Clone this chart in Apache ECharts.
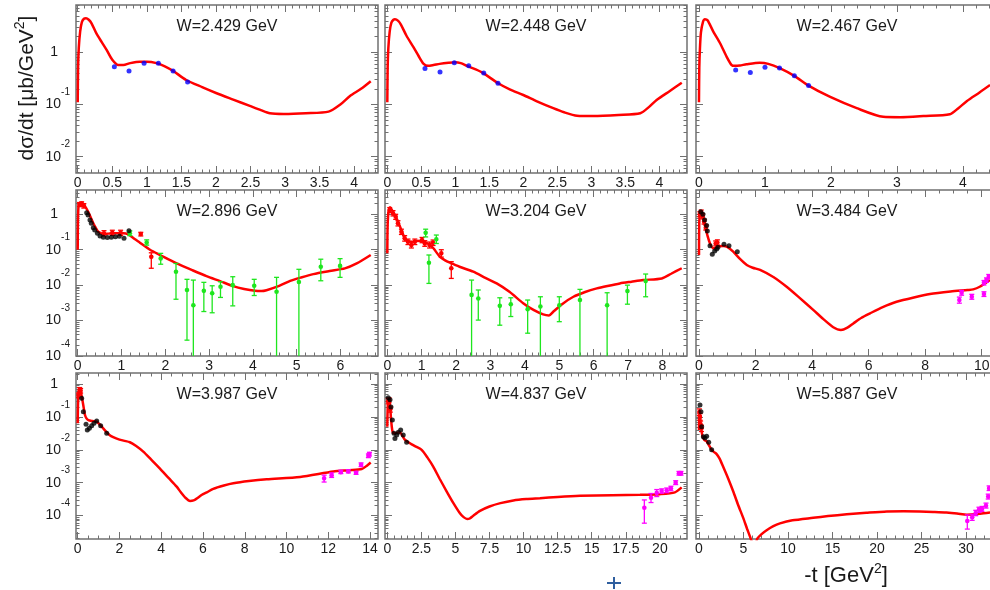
<!DOCTYPE html>
<html>
<head>
<meta charset="utf-8">
<script src="https://cdn.jsdelivr.net/npm/echarts@6/dist/echarts.min.js"></script>
<style>
  html, body { margin: 0; padding: 0; background: #ffffff; }
  #chart { width: 990px; height: 590px; }
</style>
</head>
<body>
<div id="chart"></div>
<script>
// ---------------------------------------------------------------
// dσ/dt versus -t for nine beam energies W (log scale).
// Red line: model curve; dots: measurements (with error bars where
// the measurement quotes them).
// ---------------------------------------------------------------

// ---- W = 2.429 GeV ----
const curve2429_t = [0, 0.005, 0.015, 0.035, 0.06, 0.09, 0.12, 0.16, 0.2, 0.27, 0.35, 0.42, 0.5, 0.587, 0.66, 0.76, 0.9, 1.0, 1.14, 1.26, 1.38, 1.57, 1.8, 2.01, 2.25, 2.49, 2.65, 2.78, 2.98, 3.3, 3.63, 3.8, 3.94, 4.1, 4.24];
const curve2429_v = [0.11, 0.5, 1.2, 2.5, 3.8, 4.4, 4.5, 4.2, 3.6, 2.3, 1.55, 1.1, 0.72, 0.57, 0.57, 0.62, 0.66, 0.66, 0.62, 0.54, 0.44, 0.295, 0.215, 0.164, 0.124, 0.094, 0.078, 0.068, 0.066, 0.068, 0.073, 0.1, 0.146, 0.2, 0.28];
const blue2429_t = [0.53, 0.742, 0.96, 1.167, 1.38, 1.59];
const blue2429_v = [0.53, 0.44, 0.62, 0.62, 0.44, 0.27];

// ---- W = 2.448 GeV ----
const curve2448_t = [0, 0.005, 0.015, 0.035, 0.06, 0.09, 0.113, 0.16, 0.2, 0.28, 0.38, 0.46, 0.53, 0.6, 0.68, 0.77, 0.9, 0.995, 1.08, 1.17, 1.3, 1.41, 1.63, 1.8, 2.0, 2.2, 2.44, 2.6, 2.79, 3.03, 3.4, 3.72, 3.85, 3.96, 4.15, 4.33];
const curve2448_v = [0.11, 0.5, 1.2, 2.5, 3.7, 4.2, 4.3, 4.0, 3.4, 2.1, 1.28, 0.85, 0.61, 0.55, 0.57, 0.6, 0.63, 0.645, 0.62, 0.55, 0.47, 0.40, 0.255, 0.195, 0.152, 0.115, 0.085, 0.071, 0.061, 0.06, 0.063, 0.068, 0.09, 0.122, 0.18, 0.26];
const blue2448_t = [0.554, 0.775, 0.985, 1.197, 1.418, 1.628];
const blue2448_v = [0.49, 0.42, 0.63, 0.55, 0.40, 0.255];

// ---- W = 2.467 GeV ----
const curve2467_t = [0, 0.005, 0.015, 0.03, 0.06, 0.09, 0.13, 0.217, 0.32, 0.42, 0.495, 0.545, 0.62, 0.72, 0.92, 1.05, 1.23, 1.45, 1.66, 1.98, 2.39, 2.79, 3.05, 3.4, 3.8, 3.93, 4.06, 4.25, 4.41];
const curve2467_v = [0.11, 0.5, 1.2, 2.4, 3.8, 4.3, 4.1, 2.5, 1.49, 0.82, 0.57, 0.55, 0.56, 0.59, 0.63, 0.6, 0.49, 0.35, 0.23, 0.141, 0.085, 0.058, 0.057, 0.06, 0.065, 0.085, 0.117, 0.17, 0.236];
const blue2467_t = [0.556, 0.778, 1.0, 1.22, 1.445, 1.66];
const blue2467_v = [0.46, 0.41, 0.52, 0.50, 0.356, 0.23];

// ---- W = 2.896 GeV ----
const curve2896_t = [0, 0.005, 0.02, 0.05, 0.09, 0.15, 0.24, 0.3, 0.356, 0.41, 0.47, 0.585, 0.7, 0.81, 0.93, 1.04, 1.155, 1.3, 1.42, 1.65, 1.88, 2.26, 2.6, 2.94, 3.25, 3.55, 3.8, 4.05, 4.2, 4.31, 4.6, 4.85, 5.1, 5.38, 5.75, 6.1, 6.37, 6.69];
const curve2896_v = [0.1, 0.6, 1.8, 2.0, 2.05, 1.8, 1.18, 0.8, 0.56, 0.42, 0.32, 0.28, 0.285, 0.29, 0.29, 0.29, 0.27, 0.2, 0.158, 0.1, 0.071, 0.041, 0.027, 0.018, 0.013, 0.0094, 0.0078, 0.0069, 0.0068, 0.0072, 0.0095, 0.0132, 0.0165, 0.0205, 0.025, 0.0297, 0.041, 0.071];
const black2896_t = [0.205, 0.235, 0.28, 0.31, 0.356, 0.388, 0.45, 0.51, 0.585, 0.676, 0.767, 0.86, 0.95, 1.057, 1.17];
const black2896_v = [1.11, 0.955, 0.69, 0.56, 0.42, 0.36, 0.29, 0.244, 0.224, 0.22, 0.224, 0.233, 0.24, 0.21, 0.344];
const red2896_t  = [0.04, 0.09, 0.14, 0.6, 0.79, 0.98, 1.44, 1.68];
const red2896_v  = [1.9, 2.0, 1.75, 0.29, 0.30, 0.30, 0.277, 0.063];
const red2896_lo = [1.65, 1.75, 1.5, 0.245, 0.255, 0.255, 0.245, 0.03];
const red2896_hi = [2.15, 2.25, 2.0, 0.345, 0.355, 0.355, 0.31, 0.082];
const green2896_t  = [1.19, 1.575, 1.895, 2.244, 2.495, 2.64, 2.88, 3.07, 3.26, 3.54, 4.03, 4.54, 5.05, 5.55, 5.99];
const green2896_v  = [0.29, 0.16, 0.057, 0.024, 0.0073, 0.0027, 0.0069, 0.0059, 0.009, 0.01, 0.0096, 0.0065, 0.0123, 0.033, 0.035];
const green2896_lo = [0.25, 0.135, 0.039, 0.004, 0.00028, 0, 0.0018, 0.00166, 0.0045, 0.0026, 0.0051, 0, 0, 0.0133, 0.0166];
const green2896_hi = [0.34, 0.19, 0.079, 0.041, 0.0146, 0.0139, 0.012, 0.0096, 0.0125, 0.0173, 0.0146, 0.0166, 0.028, 0.054, 0.056];

// ---- W = 3.204 GeV ----
const curve3204_t = [0, 0.01, 0.04, 0.08, 0.14, 0.22, 0.3, 0.37, 0.44, 0.51, 0.6, 0.71, 0.85, 1.0, 1.12, 1.24, 1.34, 1.53, 1.68, 1.82, 2.1, 2.5, 2.85, 3.18, 3.55, 3.95, 4.25, 4.53, 4.7, 4.83, 5.1, 5.41, 5.75, 6.09, 6.4, 6.76, 7.1, 7.44, 7.98, 8.25, 8.56];
const curve3204_v = [0.079, 0.5, 1.3, 1.58, 1.3, 0.95, 0.65, 0.45, 0.3, 0.21, 0.175, 0.168, 0.175, 0.18, 0.16, 0.136, 0.11, 0.063, 0.05, 0.043, 0.033, 0.024, 0.016, 0.0112, 0.0065, 0.0031, 0.002, 0.0015, 0.0014, 0.0018, 0.003, 0.0047, 0.0064, 0.0081, 0.0095, 0.0112, 0.0125, 0.0139, 0.0155, 0.021, 0.03];
const red3204_t  = [0.07, 0.166, 0.244, 0.31, 0.41, 0.505, 0.60, 0.70, 0.80, 1.01, 1.09, 1.23, 1.33, 1.57, 1.86];
const red3204_v  = [1.32, 1.07, 0.855, 0.56, 0.32, 0.21, 0.168, 0.136, 0.168, 0.188, 0.151, 0.136, 0.158, 0.079, 0.030];
const red3204_lo = [1.12, 0.9, 0.72, 0.47, 0.27, 0.175, 0.14, 0.112, 0.14, 0.158, 0.125, 0.112, 0.132, 0.062, 0.0155];
const red3204_hi = [1.55, 1.27, 1.0, 0.66, 0.38, 0.25, 0.2, 0.165, 0.2, 0.222, 0.18, 0.165, 0.188, 0.1, 0.046];
const green3204_t  = [1.115, 1.21, 1.425, 2.45, 2.645, 3.27, 3.59, 4.08, 4.45, 5.0, 5.60, 6.39, 6.98, 7.51];
const green3204_v  = [0.30, 0.043, 0.197, 0.0053, 0.0042, 0.0026, 0.0029, 0.0021, 0.0025, 0.0027, 0.0038, 0.0027, 0.0068, 0.013];
const green3204_lo = [0.23, 0.0112, 0.15, 0, 0.00103, 0.00074, 0.0013, 0.00044, 0, 0.00093, 0, 0, 0.0029, 0.0047];
const green3204_hi = [0.38, 0.071, 0.26, 0.0139, 0.0073, 0.0044, 0.0044, 0.0038, 0.0047, 0.0047, 0.0076, 0.0061, 0.01, 0.0206];

// ---- W = 3.484 GeV ----
const curve3484_t = [0, 0.01, 0.04, 0.094, 0.15, 0.21, 0.3, 0.39, 0.5, 0.6, 0.7, 0.86, 1.0, 1.21, 1.45, 1.69, 1.9, 2.16, 2.63, 3.1, 3.57, 4.04, 4.4, 4.75, 5.02, 5.25, 5.46, 5.75, 6.05, 6.5, 6.99, 7.6, 8.17, 8.9, 9.5, 9.7, 9.93, 10.29];
const curve3484_v = [0.071, 0.6, 1.1, 1.18, 0.85, 0.5, 0.25, 0.15, 0.11, 0.115, 0.125, 0.127, 0.12, 0.088, 0.055, 0.037, 0.031, 0.027, 0.017, 0.009, 0.0043, 0.002, 0.0011, 0.00065, 0.00054, 0.00063, 0.00083, 0.0012, 0.0016, 0.0024, 0.0034, 0.0045, 0.0056, 0.0066, 0.0073, 0.0076, 0.009, 0.0139];
const black3484_t = [0.06, 0.14, 0.2, 0.27, 0.295, 0.39, 0.47, 0.555, 0.626, 0.67, 0.884, 1.06, 1.355];
const black3484_v = [1.18, 1.0, 0.69, 0.48, 0.34, 0.13, 0.074, 0.092, 0.105, 0.117, 0.142, 0.13, 0.088];
const red3484_t  = [0.03, 0.08, 0.13, 0.18, 0.24, 0.59, 0.65];
const red3484_v  = [1.0, 1.12, 0.88, 0.62, 0.42, 0.15, 0.16];
const red3484_lo = [0.85, 0.95, 0.75, 0.53, 0.36, 0.128, 0.136];
const red3484_hi = [1.18, 1.32, 1.04, 0.73, 0.5, 0.177, 0.19];
const mag3484_t  = [9.21, 9.29, 9.65, 10.08, 10.08, 10.17, 10.25];
const mag3484_v  = [0.0038, 0.0061, 0.0047, 0.0056, 0.0117, 0.0139, 0.0173];
const mag3484_lo = [0.0031, 0.0052, 0.004, 0.0048, 0.0101, 0.012, 0.015];
const mag3484_hi = [0.0046, 0.0071, 0.0055, 0.0065, 0.0135, 0.016, 0.02];

// ---- W = 3.987 GeV ----
const curve3987_t = [0, 0.02, 0.06, 0.11, 0.17, 0.24, 0.3, 0.35, 0.42, 0.51, 0.7, 0.91, 1.1, 1.39, 1.6, 1.87, 2.2, 2.5, 2.8, 3.14, 3.5, 3.94, 4.35, 4.74, 4.95, 5.14, 5.38, 5.55, 5.7, 5.95, 6.18, 6.49, 7.0, 7.45, 8.2, 9.05, 10.65, 12.24, 13.0, 13.6, 13.85, 14.03];
const curve3987_v = [0.064, 0.3, 0.6, 0.69, 0.5, 0.29, 0.17, 0.114, 0.09, 0.08, 0.075, 0.0715, 0.055, 0.034, 0.026, 0.022, 0.019, 0.017, 0.013, 0.0088, 0.0052, 0.0027, 0.0014, 0.00076, 0.0005, 0.00036, 0.00028, 0.00029, 0.00033, 0.00043, 0.00051, 0.00065, 0.00082, 0.00096, 0.00112, 0.00127, 0.0015, 0.0022, 0.0024, 0.0026, 0.0033, 0.0041];
const black3987_t = [0.19, 0.27, 0.40, 0.46, 0.56, 0.67, 0.78, 0.91, 1.10, 1.39];
const black3987_v = [0.37, 0.144, 0.06, 0.04, 0.045, 0.054, 0.064, 0.075, 0.054, 0.032];
const red3987_t  = [0.04, 0.09, 0.14];
const red3987_v  = [0.45, 0.66, 0.62];
const red3987_lo = [0.38, 0.56, 0.53];
const red3987_hi = [0.53, 0.78, 0.73];
const mag3987_t  = [11.8, 12.16, 12.6, 12.96, 13.33, 13.57, 13.92, 13.97];
const mag3987_v  = [0.00136, 0.0017, 0.0021, 0.0022, 0.002, 0.0035, 0.0066, 0.0074];
const mag3987_lo = [0.00105, 0.00145, 0.0019, 0.002, 0.0018, 0.0031, 0.0058, 0.0065];
const mag3987_hi = [0.0017, 0.002, 0.0024, 0.0025, 0.0022, 0.004, 0.0075, 0.0084];

// ---- W = 4.837 GeV ----
const curve4837_t = [0, 0.03, 0.08, 0.15, 0.21, 0.27, 0.33, 0.39, 0.47, 0.56, 0.75, 0.93, 1.1, 1.3, 1.55, 1.79, 2.1, 2.52, 2.95, 3.37, 3.85, 4.36, 4.85, 5.33, 5.6, 5.86, 6.05, 6.31, 6.8, 7.5, 8.3, 9.25, 10.2, 11.2, 12.5, 14.14, 16.5, 18.54, 20.0, 21.1, 21.6];
const curve4837_v = [0.05, 0.2, 0.3, 0.33, 0.2, 0.09, 0.05, 0.035, 0.032, 0.032, 0.033, 0.034, 0.027, 0.02, 0.017, 0.0147, 0.0125, 0.01, 0.0058, 0.0031, 0.0013, 0.00054, 0.00024, 0.000118, 0.00009, 0.000079, 0.000082, 0.0001, 0.00014, 0.00019, 0.00024, 0.00029, 0.00032, 0.00034, 0.00037, 0.0004, 0.00042, 0.00043, 0.00045, 0.00051, 0.00072];
const black4837_t = [0.07, 0.2, 0.27, 0.37, 0.49, 0.56, 0.69, 0.81, 0.98, 1.17, 1.42];
const black4837_v = [0.38, 0.33, 0.2, 0.08, 0.032, 0.022, 0.028, 0.034, 0.04, 0.028, 0.017];
const red4837_t  = [0.06, 0.13, 0.22];
const red4837_v  = [0.3, 0.32, 0.17];
const red4837_lo = [0.25, 0.27, 0.14];
const red4837_hi = [0.36, 0.38, 0.2];
const mag4837_t  = [18.86, 19.35, 19.77, 20.13, 20.5, 20.81, 21.16, 21.4, 21.55];
const mag4837_v  = [0.000174, 0.00035, 0.00049, 0.00056, 0.00059, 0.00067, 0.001, 0.00195, 0.00195];
const mag4837_lo = [0.000059, 0.00025, 0.00038, 0.00048, 0.0005, 0.00057, 0.00088, 0.0017, 0.0017];
const mag4837_hi = [0.0003, 0.00047, 0.00062, 0.00065, 0.00069, 0.00078, 0.00115, 0.0022, 0.0022];

// ---- W = 5.887 GeV ----
const curve5887_t = [0, 0.03, 0.08, 0.19, 0.3, 0.41, 0.6, 0.86, 1.1, 1.42, 1.7, 1.98, 2.3, 2.73, 3.3, 3.85, 4.4, 4.98, 5.4, 5.73, 6.0, 6.3, 6.55, 7.0, 7.6, 8.3, 9.1, 10.5, 12.84, 14.5, 16.6, 18.8, 21.1, 23.0, 24.8, 26.3, 27.8, 29.0, 30.1, 31.6, 32.7];
const curve5887_v = [0.04, 0.16, 0.12, 0.057, 0.035, 0.025, 0.02, 0.018, 0.014, 0.01, 0.0085, 0.0074, 0.0055, 0.003, 0.0013, 0.00054, 0.00021, 0.000084, 0.00004, 0.000023, 0.000015, 0.000012, 0.00002, 0.000027, 0.000036, 0.000047, 0.000058, 0.000072, 0.000086, 0.000097, 0.00011, 0.000122, 0.000134, 0.000136, 0.000134, 0.00013, 0.000125, 0.000117, 0.000107, 0.000115, 0.000125];
const black5887_t = [0.11, 0.22, 0.30, 0.49, 0.67, 0.86, 1.09, 1.42];
const black5887_v = [0.23, 0.144, 0.05, 0.025, 0.023, 0.026, 0.017, 0.01];
const red5887_t  = [0.04, 0.1, 0.18, 0.28];
const red5887_v  = [0.14, 0.1, 0.06, 0.045];
const red5887_lo = [0.11, 0.08, 0.048, 0.036];
const red5887_hi = [0.175, 0.125, 0.075, 0.056];
const mag5887_t  = [30.15, 30.7, 31.1, 31.46, 31.8, 32.25, 32.5, 32.6];
const mag5887_v  = [0.000069, 0.000089, 0.00012, 0.00015, 0.00016, 0.0002, 0.00038, 0.00068];
const mag5887_lo = [0.000039, 0.000072, 0.0001, 0.000125, 0.000135, 0.00017, 0.00032, 0.00058];
const mag5887_hi = [0.000105, 0.00011, 0.000145, 0.00018, 0.00019, 0.00024, 0.00045, 0.0008];

// ---- axis tick labels ----
const xTicks2429 = [0, 0.5, 1, 1.5, 2, 2.5, 3, 3.5, 4];
const xTicks2448 = [0, 0.5, 1, 1.5, 2, 2.5, 3, 3.5, 4];
const xTicks2467 = [0, 1, 2, 3, 4];
const xTicks2896 = [0, 1, 2, 3, 4, 5, 6];
const xTicks3204 = [0, 1, 2, 3, 4, 5, 6, 7, 8];
const xTicks3484 = [0, 2, 4, 6, 8, 10];
const xTicks3987 = [0, 2, 4, 6, 8, 10, 12, 14];
const xTicks4837 = [0, 2.5, 5, 7.5, 10, 12.5, 15, 17.5, 20];
const xTicks5887 = [0, 5, 10, 15, 20, 25, 30];
const yTicksTop = [0.01, 0.1, 1];
const yTicksLow = [0.0001, 0.001, 0.01, 0.1, 1];

// ---- styling / layout ----
const FONT = '"Liberation Sans", Arial, Helvetica, sans-serif';
const FRAME = '#707070';
const TXT = '#1a1a1a';
const RED = '#ff0000';
const COL_LEFT = [76, 385, 696];
const PANEL_W = 302;
const ROW_TOP = [5, 190, 373];
const ROW_H = [168, 166, 166];
const ROW_Y = [[0.00487, 8.06], [0.0000999, 4.86], [0.0000195, 2.16]];

function pts(t, v) { return t.map((x, i) => [x, v[i]]); }
function errPts(t, v, lo, hi) { return t.map((x, i) => [x, v[i], lo[i], hi[i]]); }

const panels = [
  { W: '2.429', x: [-0.025, 4.345], xt: xTicks2429, xm: 0.1, curve: pts(curve2429_t, curve2429_v),
    dots: [{ c: '#0000ff', d: pts(blue2429_t, blue2429_v) }], bars: [] },
  { W: '2.448', x: [-0.034, 4.407], xt: xTicks2448, xm: 0.1, curve: pts(curve2448_t, curve2448_v),
    dots: [{ c: '#0000ff', d: pts(blue2448_t, blue2448_v) }], bars: [] },
  { W: '2.467', x: [-0.045, 4.53], xt: xTicks2467, xm: 0.2, curve: pts(curve2467_t, curve2467_v),
    dots: [{ c: '#0000ff', d: pts(blue2467_t, blue2467_v) }], bars: [] },
  { W: '2.896', x: [-0.039, 6.856], xt: xTicks2896, xm: 0.2, curve: pts(curve2896_t, curve2896_v),
    dots: [{ c: '#000000', d: pts(black2896_t, black2896_v) }],
    bars: [{ c: RED, d: errPts(red2896_t, red2896_v, red2896_lo, red2896_hi) },
           { c: '#1ee61e', d: errPts(green2896_t, green2896_v, green2896_lo, green2896_hi) }] },
  { W: '3.204', x: [-0.067, 8.712], xt: xTicks3204, xm: 0.2, curve: pts(curve3204_t, curve3204_v),
    dots: [],
    bars: [{ c: RED, d: errPts(red3204_t, red3204_v, red3204_lo, red3204_hi) },
           { c: '#1ee61e', d: errPts(green3204_t, green3204_v, green3204_lo, green3204_hi) }] },
  { W: '3.484', x: [-0.106, 10.577], xt: xTicks3484, xm: 0.5, curve: pts(curve3484_t, curve3484_v),
    dots: [{ c: '#000000', d: pts(black3484_t, black3484_v) }],
    bars: [{ c: RED, d: errPts(red3484_t, red3484_v, red3484_lo, red3484_hi) },
           { c: '#ff00ff', d: errPts(mag3484_t, mag3484_v, mag3484_lo, mag3484_hi) }] },
  { W: '3.987', x: [-0.081, 14.38], xt: xTicks3987, xm: 0.5, curve: pts(curve3987_t, curve3987_v),
    dots: [{ c: '#000000', d: pts(black3987_t, black3987_v) }],
    bars: [{ c: RED, d: errPts(red3987_t, red3987_v, red3987_lo, red3987_hi) },
           { c: '#ff00ff', d: errPts(mag3987_t, mag3987_v, mag3987_lo, mag3987_hi) }] },
  { W: '4.837', x: [-0.169, 21.99], xt: xTicks4837, xm: 0.5, curve: pts(curve4837_t, curve4837_v),
    dots: [{ c: '#000000', d: pts(black4837_t, black4837_v) }],
    bars: [{ c: RED, d: errPts(red4837_t, red4837_v, red4837_lo, red4837_hi) },
           { c: '#ff00ff', d: errPts(mag4837_t, mag4837_v, mag4837_lo, mag4837_hi) }] },
  { W: '5.887', x: [-0.337, 33.6], xt: xTicks5887, xm: 1, curve: pts(curve5887_t, curve5887_v),
    dots: [{ c: '#000000', d: pts(black5887_t, black5887_v) }],
    bars: [{ c: RED, d: errPts(red5887_t, red5887_v, red5887_lo, red5887_hi) },
           { c: '#ff00ff', d: errPts(mag5887_t, mag5887_v, mag5887_lo, mag5887_hi) }] }
];

function linTicks(lo, hi, step) {
  const out = [];
  for (let k = Math.ceil(lo / step - 1e-9); k * step <= hi + 1e-9; k++) out.push(+(k * step).toFixed(6));
  return out;
}
function logMinor(lo, hi) {
  const out = [];
  for (let e = Math.floor(Math.log10(lo)); e <= Math.ceil(Math.log10(hi)); e++) {
    for (let m = 2; m <= 9; m++) {
      const v = +(m * Math.pow(10, e)).toPrecision(6);
      if (v > lo && v < hi) out.push(v);
    }
  }
  return out;
}
function logLabel(v) {
  const e = Math.round(Math.log10(v));
  return e === 0 ? '{b|1}{p|}' : '{b|10}{e|' + e + '}';
}

const grids = [], xAxes = [], yAxes = [], series = [], graphics = [];

panels.forEach((p, gi) => {
  const row = Math.floor(gi / 3), col = gi % 3;
  const left = COL_LEFT[col], top = ROW_TOP[row], h = ROW_H[row];
  const yr = ROW_Y[row];
  const yMajor = row === 0 ? yTicksTop : yTicksLow;
  grids.push({ left: left, top: top, width: PANEL_W, height: h, show: true,
    borderColor: FRAME, borderWidth: 1.5, backgroundColor: 'rgba(0,0,0,0)',
    containLabel: false, outerBoundsMode: 'none' });

  const xMinor = linTicks(p.x[0], p.x[1], p.xm);
  const yMinor = logMinor(yr[0], yr[1]);
  const baseX = (pos, vals, len, labels) => ({
    gridIndex: gi, type: 'value', min: p.x[0], max: p.x[1], position: pos,
    axisLine: { show: false, onZero: false }, splitLine: { show: false },
    axisTick: { show: true, inside: true, length: len, customValues: vals, lineStyle: { color: FRAME, width: 1 } },
    axisLabel: labels ? { show: true, customValues: p.xt, color: TXT, fontSize: 14, fontFamily: FONT, margin: 3, hideOverlap: false }
                      : { show: false }
  });
  xAxes.push(baseX('bottom', p.xt, 7, true));
  xAxes.push(baseX('bottom', xMinor, 3.5, false));
  xAxes.push(baseX('top', p.xt, 7, false));
  xAxes.push(baseX('top', xMinor, 3.5, false));

  const baseY = (pos, vals, len, labels) => ({
    gridIndex: gi, type: 'log', logBase: 10, min: yr[0], max: yr[1], position: pos,
    axisLine: { show: false, onZero: false }, splitLine: { show: false }, minorTick: { show: false },
    axisTick: { show: true, inside: true, length: len, customValues: vals, lineStyle: { color: FRAME, width: 1 } },
    axisLabel: labels ? {
      show: true, customValues: yMajor, formatter: logLabel, margin: 6, hideOverlap: false,
      rich: {
        b: { fontSize: 14, fontFamily: FONT, color: TXT },
        e: { fontSize: 10, fontFamily: FONT, color: TXT, padding: [0, 0, 24, 0] },
        p: { width: 12 }
      }
    } : { show: false }
  });
  yAxes.push(baseY('left', yMajor, 7, col === 0));
  yAxes.push(baseY('left', yMinor, 3.5, false));
  yAxes.push(baseY('right', yMajor, 7, false));
  yAxes.push(baseY('right', yMinor, 3.5, false));

  const xi = gi * 4, yi = gi * 4;

  // model curve
  series.push({
    type: 'line', xAxisIndex: xi, yAxisIndex: yi, data: p.curve, showSymbol: false, symbol: 'none',
    smooth: 0.25, clip: true, z: 3, silent: true,
    lineStyle: { color: RED, width: 2.5 }
  });

  // measurements with error bars
  p.bars.forEach(b => {
    series.push({
      type: 'custom', xAxisIndex: xi, yAxisIndex: yi, data: b.d, clip: true, z: 4, silent: true,
      encode: { x: 0, y: 1 },
      renderItem: function (params, api) {
        const t = api.value(0), v = api.value(1), lo = api.value(2), hi = api.value(3);
        const pc = api.coord([t, v]);
        const pl = api.coord([t, lo > 0 ? lo : yr[0]]);
        const ph = api.coord([t, hi]);
        const st = { stroke: b.c, lineWidth: 1.3 };
        const kids = [
          { type: 'line', shape: { x1: pc[0], y1: pl[1], x2: pc[0], y2: ph[1] }, style: st },
          { type: 'line', shape: { x1: pc[0] - 2.5, y1: ph[1], x2: pc[0] + 2.5, y2: ph[1] }, style: st },
          { type: 'circle', shape: { cx: pc[0], cy: pc[1], r: 2.3 }, style: { fill: b.c } }
        ];
        if (lo > 0) kids.push({ type: 'line', shape: { x1: pc[0] - 2.5, y1: pl[1], x2: pc[0] + 2.5, y2: pl[1] }, style: st });
        return { type: 'group', children: kids };
      }
    });
  });

  // measurements without quoted errors
  p.dots.forEach(d => {
    series.push({
      type: 'scatter', xAxisIndex: xi, yAxisIndex: yi, data: d.d, symbol: 'circle', symbolSize: 5,
      itemStyle: { color: d.c }, z: 5, silent: true, clip: true
    });
  });

  graphics.push({
    type: 'text', x: left + PANEL_W / 2, y: top + 22, silent: true,
    style: { text: 'W=' + p.W + ' GeV', font: '16px ' + FONT, fill: TXT, align: 'center', verticalAlign: 'middle' }
  });
});

// axis titles
graphics.push({
  type: 'text', x: 27, y: 88, rotation: Math.PI / 2, silent: true,
  style: {
    text: '{n|dσ/dt [μb/GeV}{s|2}{n|]}', align: 'center', verticalAlign: 'middle',
    rich: {
      n: { fontSize: 21, fontFamily: FONT, fill: TXT },
      s: { fontSize: 14, fontFamily: FONT, fill: TXT, padding: [0, 0, 14, 0] }
    }
  }
});
graphics.push({
  type: 'text', x: 846, y: 576, silent: true,
  style: {
    text: '{n|-t [GeV}{s|2}{n|]}', align: 'center', verticalAlign: 'middle',
    rich: {
      n: { fontSize: 22, fontFamily: FONT, fill: TXT },
      s: { fontSize: 14, fontFamily: FONT, fill: TXT, padding: [0, 0, 14, 0] }
    }
  }
});
// small crosshair marker under the middle column
graphics.push({ type: 'line', silent: true, shape: { x1: 607, y1: 583, x2: 621, y2: 583 }, style: { stroke: '#2f5f9f', lineWidth: 2 } });
graphics.push({ type: 'line', silent: true, shape: { x1: 614, y1: 577, x2: 614, y2: 589 }, style: { stroke: '#2f5f9f', lineWidth: 2 } });

const chart = echarts.init(document.getElementById('chart'), null, { renderer: 'canvas' });
chart.setOption({
  animation: false,
  backgroundColor: '#ffffff',
  grid: grids,
  xAxis: xAxes,
  yAxis: yAxes,
  series: series,
  graphic: graphics
});
</script>
</body>
</html>
